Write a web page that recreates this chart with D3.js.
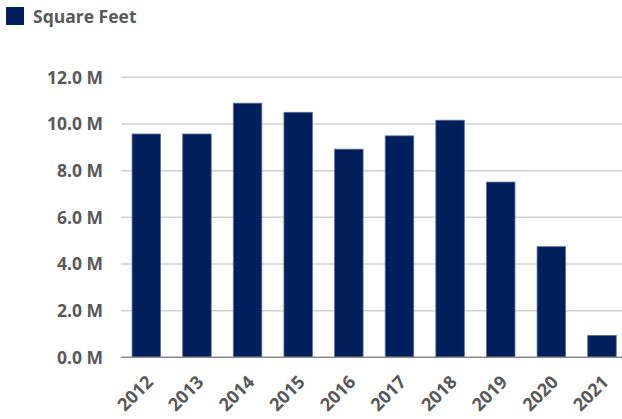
<!DOCTYPE html>
<html><head><meta charset="utf-8">
<script src="https://cdn.jsdelivr.net/npm/d3@7"></script>
<style>body{margin:0;background:#fff}svg{display:block}</style>
</head><body><svg id="c" width="622" height="419"></svg>
<script>
const years = ["2012","2013","2014","2015","2016","2017","2018","2019","2020","2021"];
const squareFeet = [9.57, 9.57, 10.89, 10.5, 8.92, 9.49, 10.16, 7.51, 4.74, 0.94];
const yTicks = [0, 2, 4, 6, 8, 10, 12];
const seriesName = "Square Feet";

const svg = d3.select("#c");
const font = "'Open Sans', sans-serif";
const textColor = "#595959";
const barColor = "#001F5B";

const x = d3.scaleBand().domain(years).range([121, 627.3]).paddingInner(0.437).paddingOuter(0.2185);
const y = d3.scaleLinear().domain([0, 12]).range([357.3, 77.3]);

// gridlines
svg.append("g").selectAll("line").data(yTicks.filter(d => d > 0)).join("line")
  .attr("x1", 121).attr("x2", 622)
  .attr("y1", d => y(d)).attr("y2", d => y(d))
  .attr("stroke", "#d0d0d0").attr("stroke-width", 1.5);

// y labels
svg.append("g").selectAll("text").data(yTicks).join("text")
  .attr("x", 103).attr("y", d => y(d)).attr("dy", "0.36em")
  .attr("text-anchor", "end")
  .attr("font-family", font).attr("font-weight", 700).attr("font-size", 17.5)
  .attr("fill", textColor)
  .text(d => d.toFixed(1) + " M");

// bars
svg.append("g").selectAll("rect").data(years).join("rect")
  .attr("x", d => x(d)).attr("width", x.bandwidth())
  .attr("y", (d, i) => y(squareFeet[i]))
  .attr("height", (d, i) => y(0) - y(squareFeet[i]))
  .attr("fill", barColor).attr("stroke", "#5a6e96").attr("stroke-width", 0.8);

// baseline
svg.append("line").attr("x1", 121).attr("x2", 622)
  .attr("y1", y(0)).attr("y2", y(0))
  .attr("stroke", "#8a8a8a").attr("stroke-width", 1.5);

// x labels
svg.append("g").selectAll("text").data(years).join("text")
  .attr("transform", d => `translate(${x(d) + x.bandwidth()/2 - 1},${y(0) + 17}) rotate(-45)`)
  .attr("text-anchor", "end").attr("dy", "0.7em")
  .attr("font-family", font).attr("font-weight", 700).attr("font-size", 18)
  .attr("fill", textColor)
  .text(d => d);

// legend
svg.append("rect").attr("x", 6).attr("y", 7).attr("width", 18).attr("height", 18).attr("fill", barColor);
svg.append("text").attr("x", 33).attr("y", 22.5)
  .attr("font-family", font).attr("font-weight", 700).attr("font-size", 17.5)
  .attr("fill", textColor).text(seriesName);
</script></body></html>
